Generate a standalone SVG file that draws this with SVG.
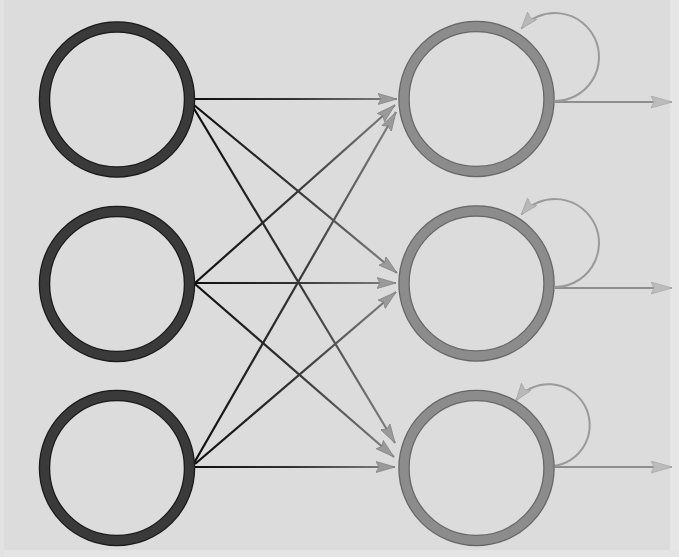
<svg xmlns="http://www.w3.org/2000/svg" width="679" height="557" viewBox="0 0 679 557">
<style>
.inner{fill:none;stroke:#3a3a3a;stroke-width:9}
.innerE{fill:none;stroke:#1a1a1a;stroke-width:11.5}
.outer{fill:none;stroke:#8c8c8c;stroke-width:9}
.outerE{fill:none;stroke:#666;stroke-width:11.5}
.conn{fill:none;stroke:url(#fade);stroke-width:2.2;marker-end:url(#arr)}
.out{fill:none;stroke:#8e8e8e;stroke-width:2;marker-end:url(#arrOut)}
.loop{fill:none;stroke:#9a9a9a;stroke-width:2;marker-end:url(#arrLoop)}
</style>
<defs>
<linearGradient id="fade" gradientUnits="userSpaceOnUse" x1="195" y1="0" x2="392" y2="0">
<stop offset="0" stop-color="#0e0e0e"/>
<stop offset="0.5" stop-color="#333"/>
<stop offset="1" stop-color="#808080"/>
</linearGradient>
<marker id="arr" markerUnits="userSpaceOnUse" markerWidth="22" markerHeight="14" refX="19" refY="6" orient="auto">
<path d="M0,0.5 L19,6 L0,11.5 L3,6 z" fill="#9a9a9a" stroke="#858585" stroke-width="0.8"/>
</marker>
<marker id="arrOut" markerUnits="userSpaceOnUse" markerWidth="24" markerHeight="14" refX="21" refY="6" orient="auto">
<path d="M0,0 L21,6 L0,12 L3,6 z" fill="#bcbcbc" stroke="#aaa" stroke-width="0.8"/>
</marker>
<marker id="arrLoop" markerUnits="userSpaceOnUse" markerWidth="20" markerHeight="14" refX="17" refY="6" orient="auto">
<path d="M0,0 L17,6 L0,12 L3,6 z" fill="#b8b8b8" stroke="#a5a5a5" stroke-width="0.8"/>
</marker>
</defs>
<rect x="0" y="0" width="679" height="557" fill="#dcdcdc"/>
<rect x="670" y="0" width="9" height="557" fill="#e6e6e6"/>
<rect x="0" y="550" width="679" height="7" fill="#e4e4e4"/>
<rect x="0" y="0" width="4" height="557" fill="#e2e2e2"/>

<g id="connectors">
<line class="conn" x1="195" y1="99" x2="397" y2="99"/>
<line class="conn" x1="194" y1="105" x2="397" y2="273"/>
<line class="conn" x1="193" y1="107" x2="395" y2="443"/>
<line class="conn" x1="195" y1="283" x2="395" y2="105"/>
<line class="conn" x1="195" y1="283" x2="396" y2="283"/>
<line class="conn" x1="195" y1="284" x2="394" y2="457"/>
<line class="conn" x1="194" y1="463" x2="396" y2="112"/>
<line class="conn" x1="195" y1="464" x2="396" y2="292"/>
<line class="conn" x1="195" y1="467" x2="395" y2="467"/>
<line class="out" x1="555" y1="102" x2="672" y2="102"/>
<line class="out" x1="555" y1="288" x2="672" y2="288"/>
<line class="out" x1="555" y1="467" x2="672" y2="467"/>
<path class="loop" d="M555,101 A44,44 0 1 0 521.3,28.7"/>
<path class="loop" d="M555,287 A44,44 0 1 0 521.3,214.7"/>
<path class="loop" d="M553,466 A41,41 0 1 0 516,400.5"/>
</g>

<g id="in1"><circle class="innerE" cx="117" cy="99.5" r="72.5"/><circle class="inner" cx="117" cy="99.5" r="72.5"/></g>
<g id="in2"><circle class="innerE" cx="117" cy="284" r="72.5"/><circle class="inner" cx="117" cy="284" r="72.5"/></g>
<g id="in3"><circle class="innerE" cx="117" cy="468" r="72.5"/><circle class="inner" cx="117" cy="468" r="72.5"/></g>
<g id="out1"><circle class="outerE" cx="476.5" cy="99" r="72.5"/><circle class="outer" cx="476.5" cy="99" r="72.5"/></g>
<g id="out2"><circle class="outerE" cx="476.5" cy="283.5" r="72.5"/><circle class="outer" cx="476.5" cy="283.5" r="72.5"/></g>
<g id="out3"><circle class="outerE" cx="476.5" cy="468" r="72.5"/><circle class="outer" cx="476.5" cy="468" r="72.5"/></g>
</svg>
